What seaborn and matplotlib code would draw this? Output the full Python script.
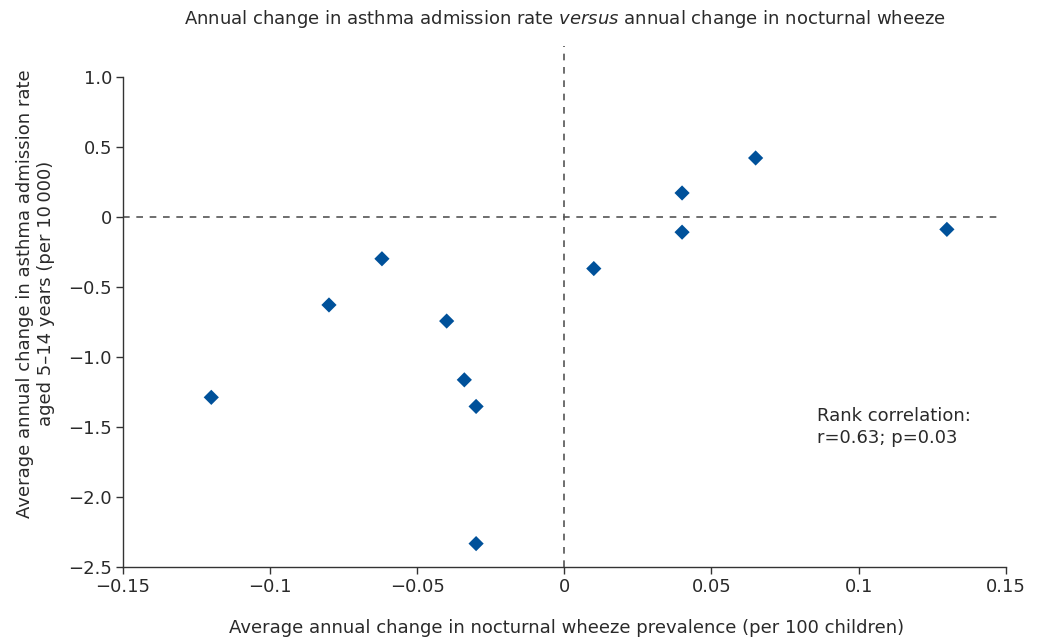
import matplotlib
matplotlib.use("Agg")
import matplotlib.pyplot as plt
import seaborn as sns
import pandas as pd

wheeze_change = [-0.120, -0.080, -0.062, -0.040, -0.034, -0.030, -0.030,
                 0.010, 0.040, 0.040, 0.065, 0.130]
admission_change = [-1.29, -0.63, -0.30, -0.745, -1.165, -1.355, -2.335,
                    -0.37, 0.17, -0.11, 0.42, -0.09]
x_ticks = [-0.15, -0.1, -0.05, 0, 0.05, 0.1, 0.15]
x_ticklabels = ["\u22120.15", "\u22120.1", "\u22120.05", "0", "0.05", "0.1", "0.15"]
y_ticks = [1.0, 0.5, 0, -0.5, -1.0, -1.5, -2.0, -2.5]
y_ticklabels = ["1.0", "0.5", "0", "\u22120.5", "\u22121.0", "\u22121.5", "\u22122.0", "\u22122.5"]

sns.set_theme(style="white")
plt.rcParams['font.family'] = ['DejaVu Sans']

df = pd.DataFrame({"x": wheeze_change, "y": admission_change})

fig = plt.figure(figsize=(10.46, 6.41), dpi=100)
ax = fig.add_axes([0.1176, 0.1159, 0.9615 - 0.1176, 0.928 - 0.1159])

ax.set_xlim(-0.15, 0.15)
ax.set_ylim(-2.5, 1.219)

dash_col = "#555555"
ax.plot([0, 0], [-2.5, 1.219], ls=(0, (4, 4)), color=dash_col, lw=1.2, zorder=1)
ax.plot([-0.15, 0.147], [0, 0], ls=(0, (4, 4)), color=dash_col, lw=1.2, zorder=1)

sns.scatterplot(data=df, x="x", y="y", marker="D", s=60, color="#00519a",
                edgecolor="none", ax=ax, zorder=3)

ax.set_xticks(x_ticks)
ax.set_xticklabels(x_ticklabels)
ax.set_yticks(y_ticks)
ax.set_yticklabels(y_ticklabels)

for s in ["top", "right"]:
    ax.spines[s].set_visible(False)
for s in ["left", "bottom"]:
    ax.spines[s].set_color("#333333")
    ax.spines[s].set_linewidth(1.0)
ax.spines["left"].set_bounds(-2.5, 1.0)

fs = 13
txt = "#2a2a2a"
ax.tick_params(axis="both", which="major", direction="out", length=5, width=1,
               color="#333333", labelsize=fs, labelcolor=txt, pad=3,
               bottom=True, left=True)

ax.set_xlabel("Average annual change in nocturnal wheeze prevalence (per 100 children)",
              fontsize=fs, color=txt)
ax.xaxis.set_label_coords(0.503, -0.118)
ax.xaxis.label.set_va("center")

ax.set_ylabel("Average annual change in asthma admission rate\naged 5\u201314 years (per 10\u2009000)",
              fontsize=fs, color=txt, linespacing=1.25)
ax.yaxis.set_label_coords(-0.099, 0.525)
ax.yaxis.label.set_va("center")

ax.text(0.0858, -1.50, "Rank correlation:\nr=0.63; p=0.03", fontsize=fs,
        color=txt, va="center", ha="left", linespacing=1.3)

fig.text(565 / 1046, 1 - 19 / 641,
         "Annual change in asthma admission rate $\\it{versus}$ annual change in nocturnal wheeze",
         ha="center", va="center", fontsize=fs, color=txt)

fig.savefig("out.png", dpi=100)
